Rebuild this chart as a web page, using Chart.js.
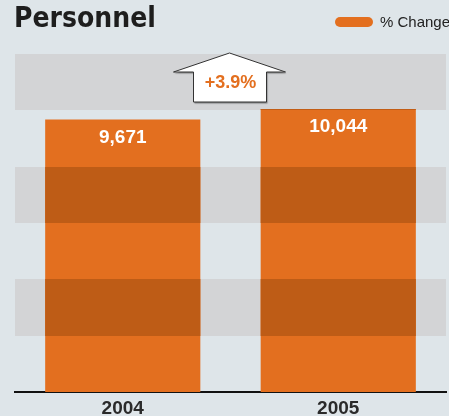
<!DOCTYPE html>
<html>
<head>
<meta charset="utf-8">
<script src="https://cdn.jsdelivr.net/npm/chart.js@4"></script>
<style>
  body { margin: 0; background: #dee5e9; }
  canvas { display: block; }
</style>
</head>
<body>
<canvas id="my_chart" width="449" height="416"></canvas>
<script>
var years = ["2004", "2005"];
var personnel = [9671, 10044];
var changeText = "+3.9%";
var yMax = 12000;
var yStep = 2000;

var orange = "#e36f1f";
var darkOrange = "#be5c16";
var bandGray = "#d3d4d6";

var bandsPlugin = {
    id: "bands",
    beforeDatasetsDraw: function (chart) {
        var c = chart.ctx, a = chart.chartArea, y = chart.scales.y;
        c.save();
        c.fillStyle = bandGray;
        for (var v = yMax; v > 0; v -= yStep) {
            if ((v / yStep) % 2 === 0) {
                var t = Math.round(y.getPixelForValue(v));
                var b = Math.round(y.getPixelForValue(v - yStep));
                c.fillRect(a.left, t, a.right - a.left, b - t);
            }
        }
        c.restore();
    },
    afterDatasetsDraw: function (chart) {
        var c = chart.ctx, y = chart.scales.y;
        var meta = chart.getDatasetMeta(0);
        c.save();
        meta.data.forEach(function (bar, i) {
            var left = bar.x - bar.width / 2, right = bar.x + bar.width / 2;
            for (var v = yMax; v > 0; v -= yStep) {
                if ((v / yStep) % 2 === 0) {
                    var t = Math.max(Math.round(y.getPixelForValue(v)), bar.y);
                    var b = Math.round(y.getPixelForValue(v - yStep));
                    if (b > t) {
                        c.fillStyle = darkOrange;
                        c.fillRect(left, t, right - left, b - t);
                    }
                }
            }
            c.fillStyle = "#ffffff";
            c.font = "bold 19px 'Liberation Sans', Arial, sans-serif";
            c.textAlign = "center";
            c.textBaseline = "middle";
            c.fillText(personnel[i].toLocaleString("en-US"), bar.x, bar.y + 18);
        });
        c.restore();
    },
    afterDraw: function (chart) {
        var c = chart.ctx, a = chart.chartArea;
        c.save();
        // title
        c.fillStyle = "#1e1e1e";
        c.font = "bold 28px 'DejaVu Sans Condensed', 'DejaVu Sans', sans-serif";
        c.textAlign = "left";
        c.textBaseline = "alphabetic";
        c.fillText("Personnel", 14, 27);
        // legend
        c.fillStyle = orange;
        c.beginPath();
        c.roundRect(335, 17, 38, 10, 5);
        c.fill();
        c.fillStyle = "#222";
        c.font = "15px 'Liberation Sans', Arial, sans-serif";
        c.textBaseline = "middle";
        c.fillText("% Change", 380, 22.5);
        // arrow
        var cx = (a.left + a.right) / 2 - 1;
        var top = a.top - 1;
        c.beginPath();
        c.moveTo(cx, top);
        c.lineTo(cx + 56, top + 19);
        c.lineTo(cx + 37, top + 19);
        c.lineTo(cx + 37, top + 49);
        c.lineTo(cx - 36, top + 49);
        c.lineTo(cx - 36, top + 19);
        c.lineTo(cx - 56, top + 19);
        c.closePath();
        c.shadowColor = "rgba(0,0,0,0.4)";
        c.shadowOffsetX = 1;
        c.shadowOffsetY = 1.5;
        c.shadowBlur = 1;
        c.fillStyle = "#ffffff";
        c.fill();
        c.shadowColor = "transparent";
        c.strokeStyle = "#333";
        c.lineWidth = 1;
        c.stroke();
        c.fillStyle = orange;
        c.font = "bold 18px 'Liberation Sans', Arial, sans-serif";
        c.textAlign = "center";
        c.fillText(changeText, cx + 1, top + 30);
        c.restore();
    }
};

var ctx = document.getElementById("my_chart").getContext("2d");

new Chart(ctx, {
    type: "bar",
    data: {
        labels: years,
        datasets: [{
            label: "% Change",
            data: personnel,
            backgroundColor: orange,
            categoryPercentage: 0.72,
            barPercentage: 1
        }]
    },
    options: {
        responsive: false,
        animation: false,
        layout: {
            padding: { top: 54, left: 15, right: 3, bottom: 0 }
        },
        plugins: {
            legend: { display: false },
            tooltip: { enabled: false }
        },
        scales: {
            y: {
                display: false,
                min: 0,
                max: yMax,
                ticks: { stepSize: yStep }
            },
            x: {
                grid: { display: false, drawTicks: false },
                border: { color: "#111", width: 2 },
                ticks: {
                    color: "#2a2a2a",
                    padding: 6,
                    font: { family: "'Liberation Sans', Arial, sans-serif", size: 19, weight: "bold", lineHeight: 1.1 }
                },
                afterFit: function (scale) { scale.height = 24; }
            }
        }
    },
    plugins: [bandsPlugin]
});
</script>
</body>
</html>
